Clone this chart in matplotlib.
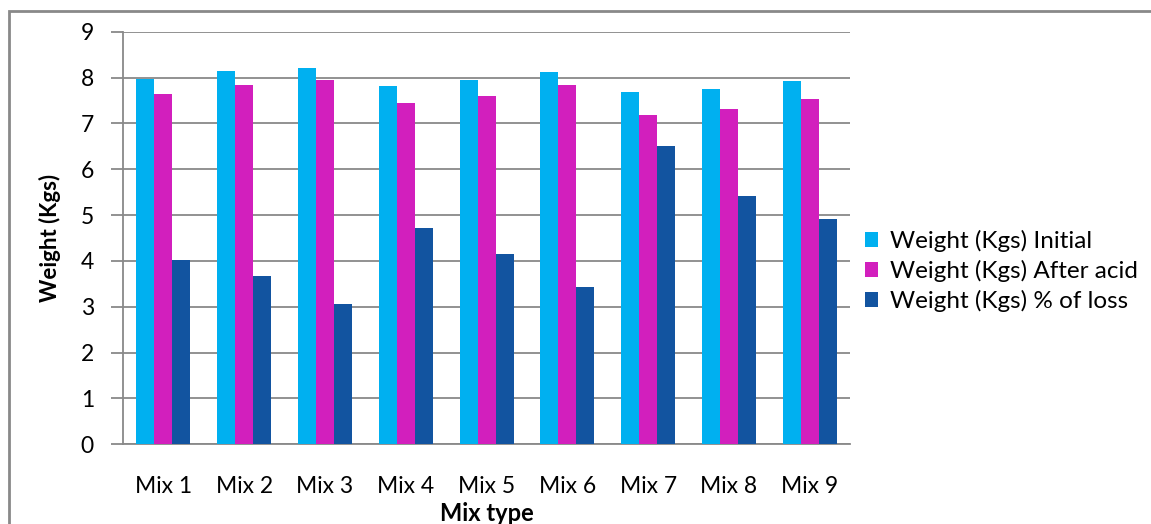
import matplotlib.pyplot as plt
import numpy as np
from matplotlib.patches import Rectangle

mixes = ["Mix 1", "Mix 2", "Mix 3", "Mix 4", "Mix 5", "Mix 6", "Mix 7", "Mix 8", "Mix 9"]
initial = [7.97, 8.14, 8.20, 7.82, 7.94, 8.13, 7.68, 7.74, 7.92]
after_acid = [7.64, 7.84, 7.95, 7.44, 7.60, 7.84, 7.18, 7.32, 7.53]
loss_pct = [4.02, 3.68, 3.05, 4.72, 4.15, 3.44, 6.51, 5.42, 4.91]

series = [
    ("Weight (Kgs) Initial", initial, "#00B0F0"),
    ("Weight (Kgs) After acid", after_acid, "#D21FBD"),
    ("Weight (Kgs) % of loss", loss_pct, "#1254A0"),
]

plt.rcParams['font.family'] = ['Lato', 'DejaVu Sans']
grid_col = "#898989"

fig = plt.figure(figsize=(11.51, 5.24), dpi=100)
ax = fig.add_axes([0.1069, 0.1521, 0.6316, 0.7874])

x = np.arange(len(mixes))
w = 0.223
for i, (name, vals, col) in enumerate(series):
    ax.bar(x + (i - 1) * w, vals, w, color=col, label=name, zorder=3)

ax.set_xlim(-0.5, len(mixes) - 0.5)
ax.set_ylim(0, 9)
ax.set_yticks(range(10))
ax.set_xticks(x)
ax.set_xticklabels(mixes, fontsize=16.5)
ax.tick_params(axis='y', labelsize=16.5, length=9, width=1.3, color=grid_col, pad=12)
ax.tick_params(axis='x', length=0, pad=23)
ax.grid(axis='y', color=grid_col, linewidth=1.3, zorder=0)

for side in ['top', 'right']:
    ax.spines[side].set_visible(False)
for side in ['left', 'bottom']:
    ax.spines[side].set_color(grid_col)
    ax.spines[side].set_linewidth(1.3)

ax.set_ylabel("Weight (Kgs)", fontsize=16, fontweight='bold', labelpad=14)
ax.set_xlabel("Mix type", fontsize=17, fontweight='bold', va='center')
ax.xaxis.set_label_coords(0.5, -0.168)

ax.legend(loc='center left', bbox_to_anchor=(1.0, 0.42), frameon=False,
          fontsize=17.5, handlelength=0.55, handleheight=0.55, handletextpad=0.5,
          labelspacing=0.32, borderaxespad=0.2)

# outer chart frame (open on the right and bottom)
fig.patches.append(Rectangle((0.008, -0.1), 1.2, 1.079, transform=fig.transFigure,
                             fill=False, edgecolor=grid_col, linewidth=2))

fig.savefig("out.png", dpi=100)
